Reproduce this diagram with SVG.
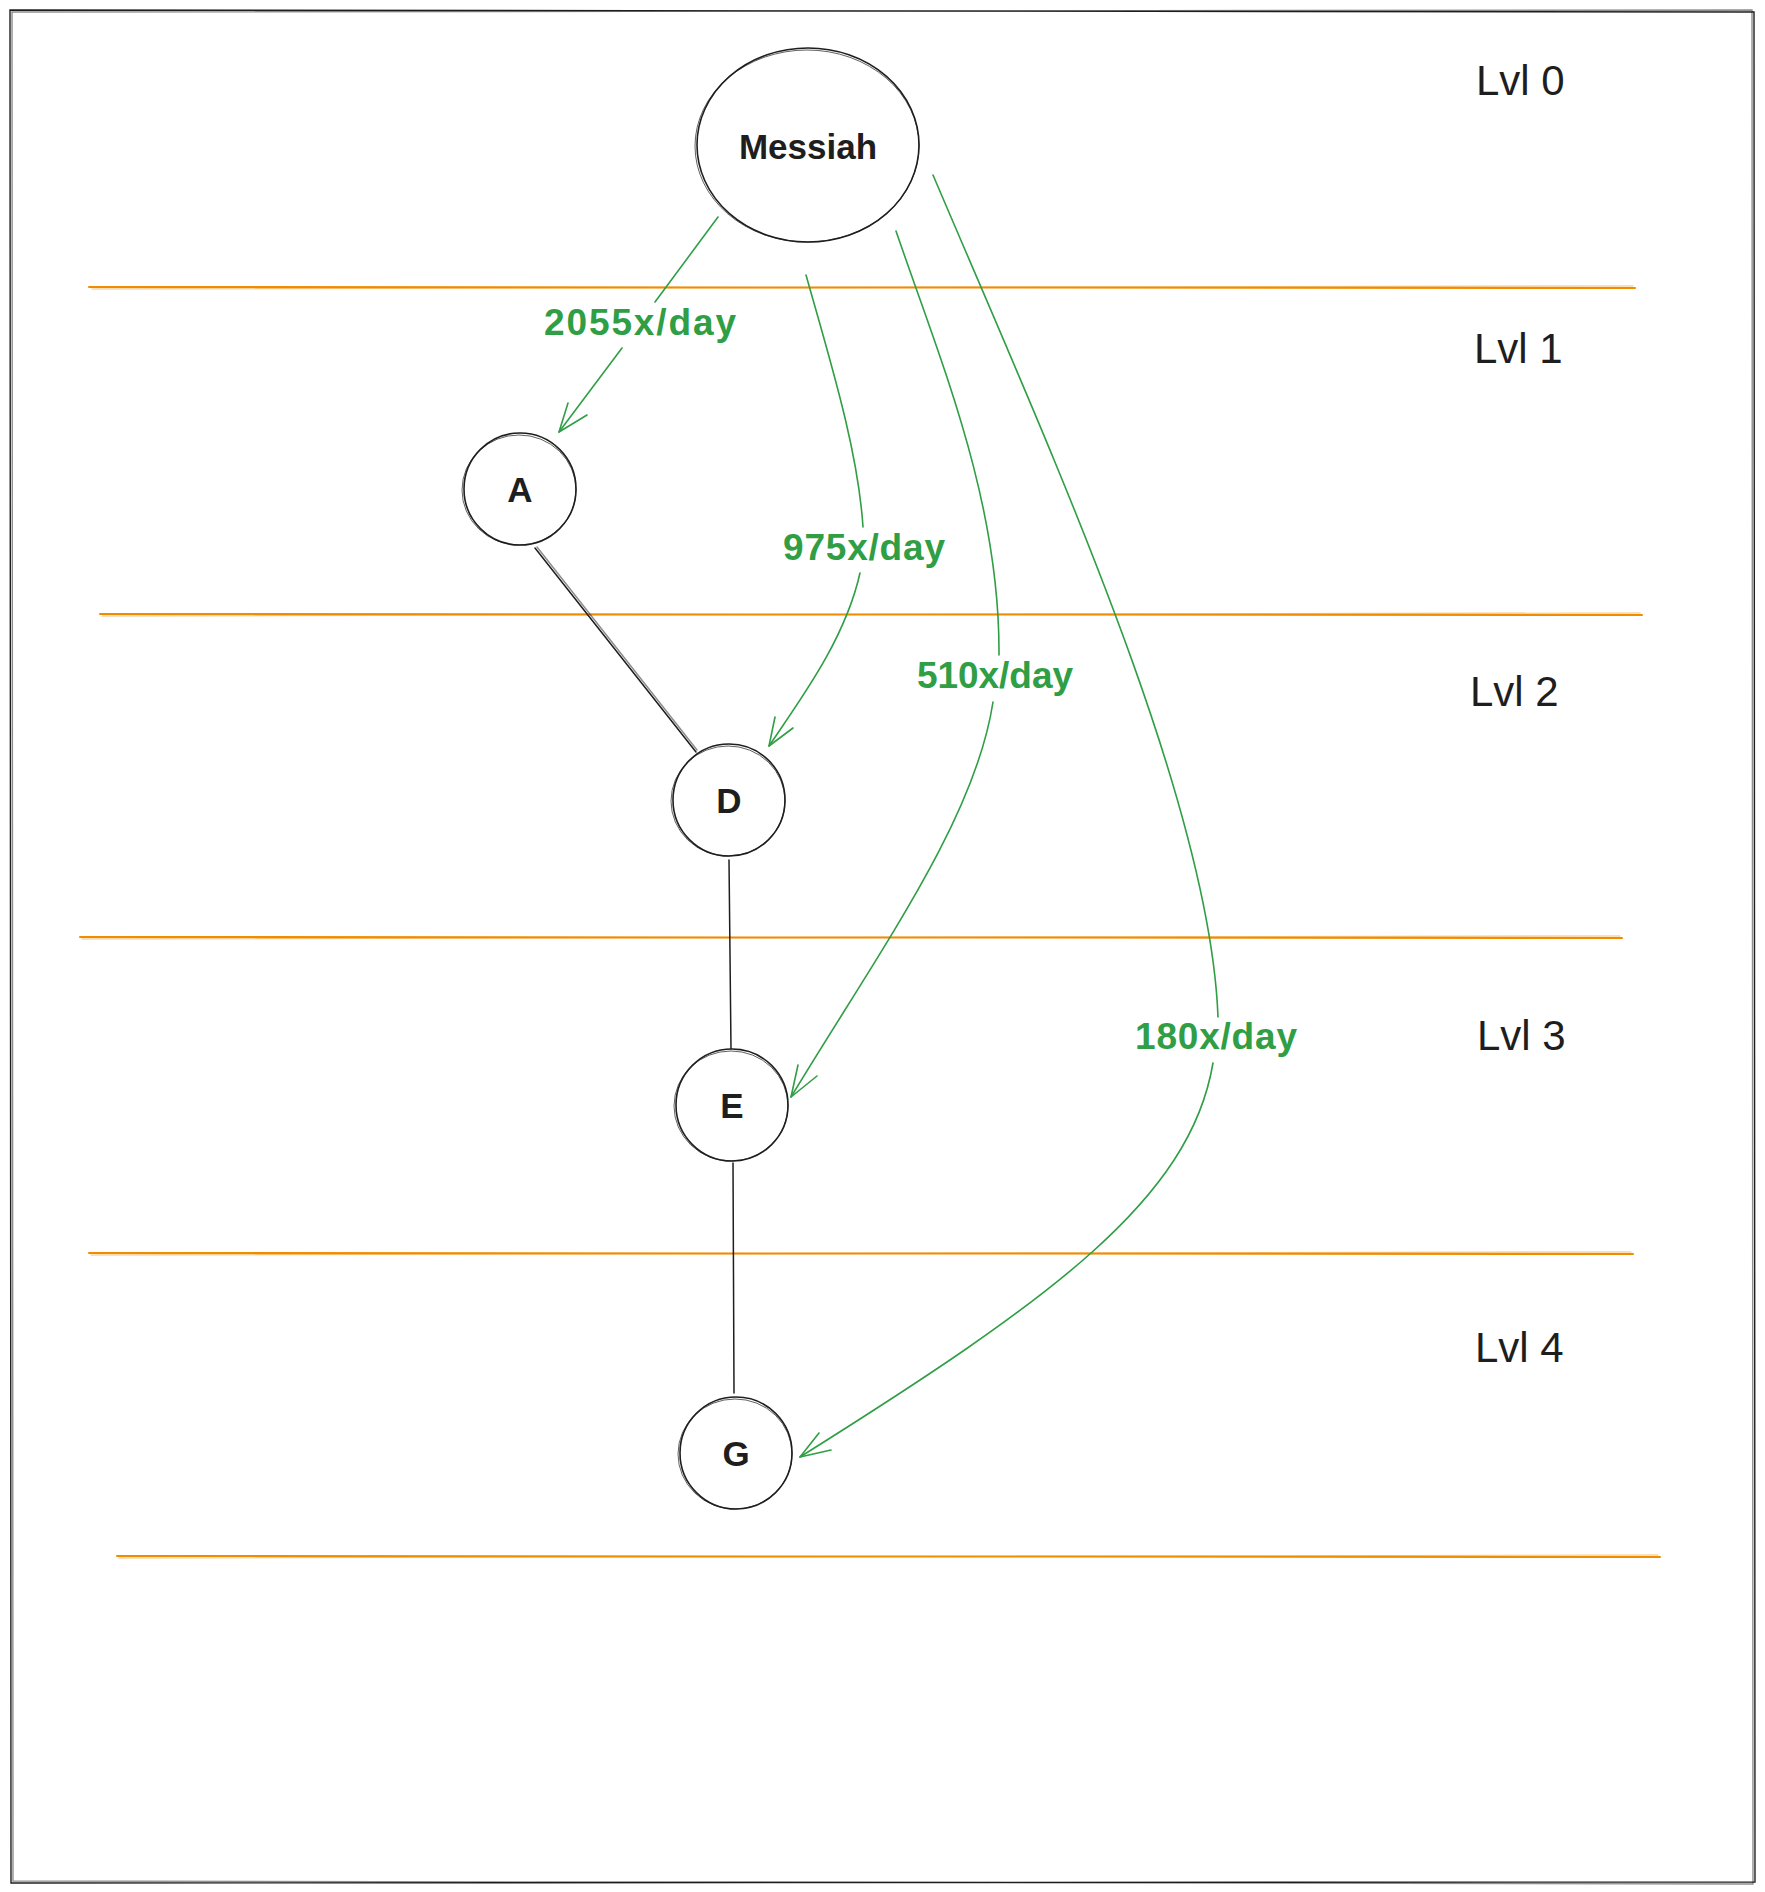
<svg xmlns="http://www.w3.org/2000/svg" width="1765" height="1892" viewBox="0 0 1765 1892">
<defs>
<style>
.frame{fill:none;stroke:#1e1e1e;stroke-width:1.4}
.band{fill:none;stroke:#f08c00;stroke-width:2;stroke-linecap:round}
.band2{fill:none;stroke:#f08c00;stroke-width:1.2;stroke-opacity:0.55;stroke-linecap:round}
.node{fill:#ffffff;stroke:#1e1e1e;stroke-width:1.6}
.node2{fill:none;stroke:#1e1e1e;stroke-width:1;stroke-opacity:0.7}
.link{fill:none;stroke:#1e1e1e;stroke-width:1.5;stroke-linecap:round}
.flow{fill:none;stroke:#2f9e44;stroke-width:1.6;stroke-linecap:round;stroke-linejoin:round}
.lbl{font-family:"Liberation Sans",Arial,sans-serif;font-size:37px;font-weight:bold;fill:#2f9e44;text-anchor:middle}
.ntxt{font-family:"Liberation Sans",Arial,sans-serif;font-size:35px;font-weight:bold;fill:#1e1e1e;text-anchor:middle;dominant-baseline:central}
.lvl{font-family:"Liberation Sans",Arial,sans-serif;font-size:42px;fill:#1e1e1e}
</style>
</defs>
<rect width="1765" height="1892" fill="#ffffff"/>
<g id="frame">
<path class="frame" d="M10,10 L1754,12 L1755,1882 L11,1883 Z"/>
<path class="frame" d="M12,12 L1752,10 L1753,1884 L13,1881 Z" stroke-opacity="0.5"/>
</g>
<g id="bands">
<path class="band" d="M89,287 L1635,288"/><path class="band2" d="M92,289 L1633,286"/>
<path class="band" d="M100,614 L1642,615"/><path class="band2" d="M102,616 L1640,613"/>
<path class="band" d="M80,937 L1622,938"/><path class="band2" d="M82,939 L1620,936"/>
<path class="band" d="M89,1253 L1633,1254"/><path class="band2" d="M91,1255 L1631,1252"/>
<path class="band" d="M117,1556 L1660,1557"/><path class="band2" d="M119,1558 L1658,1555"/>
</g>
<g id="levels">
<text class="lvl" x="1476" y="95">Lvl 0</text>
<text class="lvl" x="1474" y="363">Lvl 1</text>
<text class="lvl" x="1470" y="706">Lvl 2</text>
<text class="lvl" x="1477" y="1050">Lvl 3</text>
<text class="lvl" x="1475" y="1362">Lvl 4</text>
</g>
<g id="connectors">
<path class="link" d="M535,548 L696,752"/><path class="link" d="M537,547 L697,750" stroke-opacity="0.5" stroke-width="1"/>
<path class="link" d="M729,860 L731,1049"/>
<path class="link" d="M733,1163 L734,1393"/>
<path class="flow" d="M718,217 L655,302"/>
<path class="flow" d="M622,348 L559,432"/>
<path class="flow" d="M568,403 L559,432 L587,415"/>
<path class="flow" d="M806,275 C830,360 858,450 863,527"/>
<path class="flow" d="M860,573 C845,640 800,700 769,746"/>
<path class="flow" d="M775,717 L769,746 L793,728"/>
<path class="flow" d="M896,231 C940,360 1000,500 999,655"/>
<path class="flow" d="M993,702 C975,820 880,950 791,1097"/>
<path class="flow" d="M798,1065 L791,1097 L817,1076"/>
<path class="flow" d="M933,175 C1050,450 1210,800 1218,1017"/>
<path class="flow" d="M1213,1063 C1190,1200 1050,1300 800,1457"/>
<path class="flow" d="M819,1433 L800,1457 L831,1450"/>
<text class="lbl" x="640" y="335" textLength="192">2055x/day</text>
<text class="lbl" x="864" y="560" textLength="162">975x/day</text>
<text class="lbl" x="995" y="688" textLength="156">510x/day</text>
<text class="lbl" x="1216" y="1049" textLength="162">180x/day</text>
</g>
<g id="messiah">
<ellipse class="node" cx="808" cy="145" rx="111" ry="97"/>
<ellipse class="node2" cx="807" cy="146" rx="112" ry="96"/>
<text class="ntxt" x="808" y="146">Messiah</text>
</g>
<g id="node-a">
<circle class="node" cx="520" cy="489" r="56"/>
<ellipse class="node2" cx="519" cy="490" rx="57" ry="55"/>
<text class="ntxt" x="520" y="489">A</text>
</g>
<g id="node-d">
<circle class="node" cx="729" cy="800" r="56"/>
<ellipse class="node2" cx="728" cy="801" rx="57" ry="55"/>
<text class="ntxt" x="729" y="800">D</text>
</g>
<g id="node-e">
<circle class="node" cx="732" cy="1105" r="56"/>
<ellipse class="node2" cx="731" cy="1106" rx="57" ry="55"/>
<text class="ntxt" x="732" y="1105">E</text>
</g>
<g id="node-g">
<circle class="node" cx="736" cy="1453" r="56"/>
<ellipse class="node2" cx="735" cy="1454" rx="57" ry="55"/>
<text class="ntxt" x="736" y="1453">G</text>
</g>
</svg>
